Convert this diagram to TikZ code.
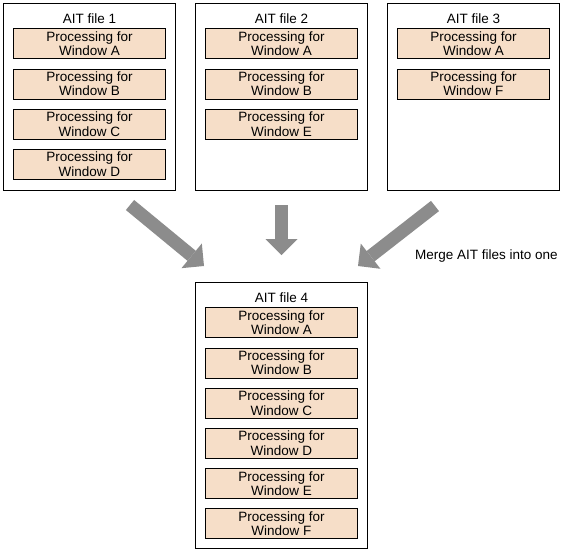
\documentclass[tikz,border=0pt]{standalone}
\usepackage{xcolor}
\usepackage{fontspec}
\setmainfont{Liberation Sans}
\usepackage{tikz}
\usetikzlibrary{positioning}
\usetikzlibrary{arrows.meta}

\definecolor{procfill}{RGB}{246,222,200}
\definecolor{mergegray}{RGB}{140,140,140}

\tikzset{
	aitfile/.style={draw, line width=0.9pt, anchor=north west, minimum width=172pt, inner sep=0pt},
	aittitle/.style={inner sep=0pt, font=\fontsize{13.5}{14.3}\selectfont},
	proc/.style={draw, line width=0.7pt, fill=procfill, minimum width=152pt, minimum height=30pt, inner sep=0pt, align=center, font=\fontsize{13.5}{14.3}\selectfont},
	mergearrow/.style={draw=mergegray, line width=13pt, -{Triangle[width=32pt,length=16pt,line width=0pt]}}
}

\begin{document}
\begin{tikzpicture}[x=1pt,y=1pt]
	\useasboundingbox (0,0) rectangle (587,-552);

	\node[aitfile, minimum height=187pt] (f1) at (3,-3) {};
	\node[aittitle] (t1) [below = 11pt of f1.north] {AIT file 1};
	\node[proc] (p1a) [below = 4pt of t1] {Processing for\\Window A};
	\node[proc] (p1b) [below = 9.5pt of p1a] {Processing for\\Window B};
	\node[proc] (p1c) [below = 9.5pt of p1b] {Processing for\\Window C};
	\node[proc] (p1d) [below = 9.5pt of p1c] {Processing for\\Window D};

	\node[aitfile, minimum height=187pt] (f2) at (195,-3) {};
	\node[aittitle] (t2) [below = 11pt of f2.north] {AIT file 2};
	\node[proc] (p2a) [below = 4pt of t2] {Processing for\\Window A};
	\node[proc] (p2b) [below = 9.5pt of p2a] {Processing for\\Window B};
	\node[proc] (p2e) [below = 9.5pt of p2b] {Processing for\\Window E};

	\node[aitfile, minimum height=187pt] (f3) at (387,-3) {};
	\node[aittitle] (t3) [below = 11pt of f3.north] {AIT file 3};
	\node[proc] (p3a) [below = 4pt of t3] {Processing for\\Window A};
	\node[proc] (p3f) [below = 9.5pt of p3a] {Processing for\\Window F};

	\node[aitfile, minimum height=266pt] (f4) at (195,-282) {};
	\node[aittitle] (t4) [below = 11pt of f4.north] {AIT file 4};
	\node[proc] (p4a) [below = 4pt of t4] {Processing for\\Window A};
	\node[proc] (p4b) [below = 9.5pt of p4a] {Processing for\\Window B};
	\node[proc] (p4c) [below = 9.5pt of p4b] {Processing for\\Window C};
	\node[proc] (p4d) [below = 9.5pt of p4c] {Processing for\\Window D};
	\node[proc] (p4e) [below = 9.5pt of p4d] {Processing for\\Window E};
	\node[proc] (p4f) [below = 9.5pt of p4e] {Processing for\\Window F};

	\coordinate (m1) at (130,-205);
	\coordinate (n1) at (204,-266);
	\coordinate (m2) at (281.5,-205);
	\coordinate (n2) at (281.5,-255);
	\coordinate (m3) at (435,-206);
	\coordinate (n3) at (358,-266);

	\draw[mergearrow] (m1) -- (n1);
	\draw[mergearrow] (m2) -- (n2);
	\draw[mergearrow] (m3) -- (n3);

	\node[aittitle, anchor=base west] (merge) at (415,-259) {Merge AIT files into one};
\end{tikzpicture}
\end{document}
